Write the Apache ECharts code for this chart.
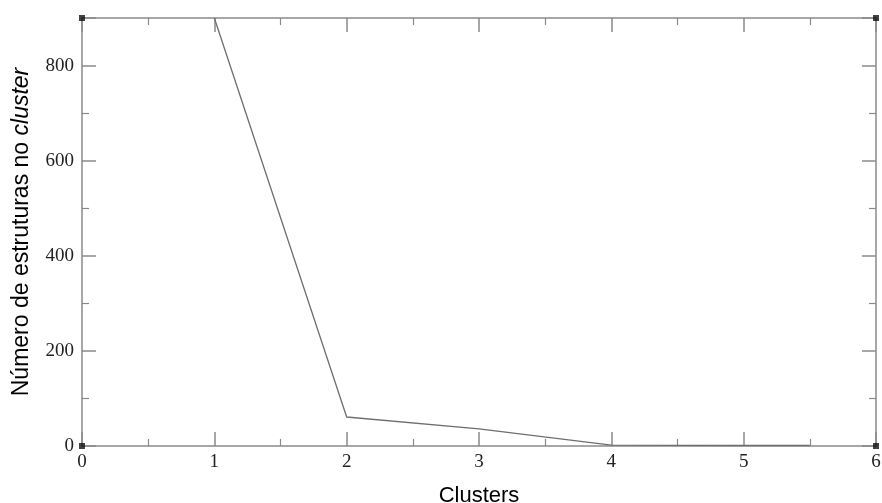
<!DOCTYPE html>
<html>
<head>
<meta charset="utf-8">
<script src="https://cdn.jsdelivr.net/npm/echarts@6/dist/echarts.min.js"></script>
<style>
  html, body { margin: 0; padding: 0; background: #fff; }
  #chart { width: 882px; height: 503px; }
</style>
</head>
<body>
<div id="chart"></div>
<script>
// data
var clusterX = [1, 2, 3, 4, 5, 5.5];
var estruturas = [900, 61, 36, 2, 1, 1];
var cornerX = [0, 0, 6, 6];
var cornerY = [0, 900, 0, 900];

var axisGray = '#8a8a8a';
var serif = '"Liberation Serif", "DejaVu Serif", serif';
var sans = '"Liberation Sans", Arial, sans-serif';

function axisBase(extra) {
    var a = {
        type: 'value',
        axisLine: { show: true, onZero: false, lineStyle: { color: axisGray, width: 1.5 } },
        axisTick: { show: true, inside: true, length: 14, lineStyle: { color: axisGray, width: 1.5 } },
        minorTick: { show: true, splitNumber: 2, length: 7, lineStyle: { color: axisGray, width: 1.2 } },
        splitLine: { show: false },
        axisLabel: { show: false }
    };
    for (var k in extra) a[k] = extra[k];
    return a;
}

var chart = echarts.init(document.getElementById('chart'));
var option = {
    animation: false,
    backgroundColor: '#fff',
    grid: { left: 82, right: 6, top: 18, bottom: 57, outerBoundsMode: 'none' },
    xAxis: [
        axisBase({
            position: 'bottom', min: 0, max: 6, interval: 1,
            axisLabel: { show: true, margin: 7, color: '#222', fontFamily: serif, fontSize: 19 },
            name: 'Clusters', nameLocation: 'middle', nameGap: 39,
            nameTextStyle: { color: '#000', fontFamily: sans, fontSize: 22 }
        }),
        axisBase({ position: 'top', min: 0, max: 6, interval: 1 })
    ],
    yAxis: [
        axisBase({
            position: 'left', min: 0, max: 900, interval: 200,
            axisLabel: {
                show: true, margin: 8, color: '#222', fontFamily: serif, fontSize: 19,
                formatter: function (v) { return v % 200 === 0 ? String(v) : ''; }
            },
            name: '{n|Número de estruturas no }{i|cluster}', nameLocation: 'middle', nameGap: 49,
            nameTextStyle: {
                rich: {
                    n: { color: '#000', fontFamily: sans, fontSize: 23 },
                    i: { color: '#000', fontFamily: sans, fontSize: 23, fontStyle: 'italic' }
                }
            }
        }),
        axisBase({ position: 'right', min: 0, max: 900, interval: 200 })
    ],
    series: [
        {
            type: 'line',
            data: clusterX.map(function (x, i) { return [x, estruturas[i]]; }),
            showSymbol: false,
            lineStyle: { color: '#6e6e6e', width: 1.3 },
            z: 3
        },
        {
            type: 'scatter',
            data: cornerX.map(function (x, i) { return [x, cornerY[i]]; }),
            symbol: 'rect',
            symbolSize: 6,
            itemStyle: { color: '#111' },
            z: 4
        }
    ]
};
chart.setOption(option);
</script>
</body>
</html>
